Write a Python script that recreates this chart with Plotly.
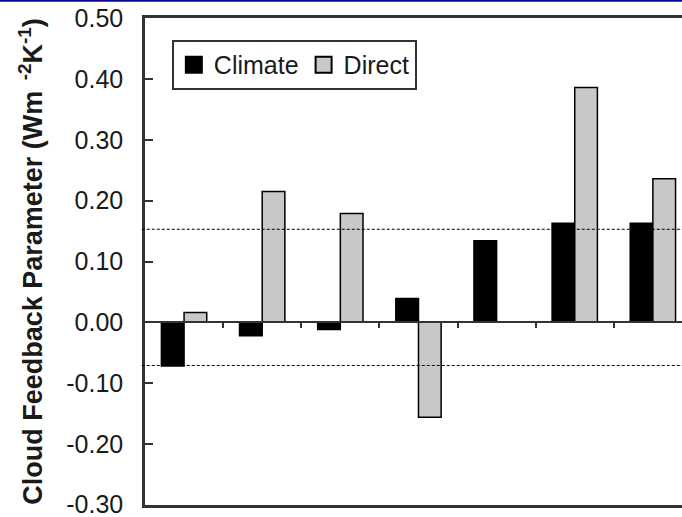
import plotly.graph_objects as go

# ---- data ----
categories = [0, 1, 2, 3, 4, 5, 6]
climate = [-0.072, -0.022, -0.012, 0.039, 0.134, 0.163, 0.163]
direct = [0.016, 0.215, 0.179, -0.156, None, 0.386, 0.236]
ref_lines = [0.153, -0.071]
y_ticks = [0.5, 0.4, 0.3, 0.2, 0.1, 0.0, -0.1, -0.2, -0.3]
y_tick_labels = ["0.50", "0.40", "0.30", "0.20", "0.10", "0.00", "-0.10", "-0.20", "-0.30"]
series_names = ["Climate", "Direct"]
y_title = "Cloud Feedback Parameter (Wm<sup>  -2</sup>K<sup>-1</sup>)"

FONT = "Liberation Sans, Arial, sans-serif"
TXT = "#1a1a1a"
AX = "#333333"
GRAY = "#c8c8c8"

fig = go.Figure()

fig.add_trace(go.Bar(x=categories, y=climate, name=series_names[0],
                     marker=dict(color="black", line=dict(color="black", width=1.5)),
                     showlegend=False))
fig.add_trace(go.Bar(x=categories, y=direct, name=series_names[1],
                     marker=dict(color=GRAY, line=dict(color="black", width=1.5)),
                     showlegend=False))

# legend entries
fig.add_trace(go.Scatter(x=[None], y=[None], mode="markers", name=series_names[0],
                         marker=dict(symbol="square", size=16, color="black",
                                     line=dict(color="black", width=2))))
fig.add_trace(go.Scatter(x=[None], y=[None], mode="markers", name=series_names[1],
                         marker=dict(symbol="square", size=16, color=GRAY,
                                     line=dict(color="black", width=2))))

# invisible trace to carry zero-line axis
fig.add_trace(go.Scatter(x=[None], y=[None], xaxis="x2", yaxis="y", showlegend=False))

xr = [-0.5, 6.5 - 10 / 78.5]
yr = [-0.3005, 0.5005]
zero_pos = (0 - yr[0]) / (yr[1] - yr[0])
ph = 487.0

for v in ref_lines:
    fig.add_shape(type="line", xref="paper", yref="y", x0=-0.006, x1=1, y0=v, y1=v,
                  line=dict(color="black", width=1, dash="3px,2px"), layer="above")

# blue strip at very top of the picture
fig.add_shape(type="line", xref="paper", yref="paper", x0=-0.28, x1=1.0,
              y0=1 + 17.2 / ph, y1=1 + 17.2 / ph,
              line=dict(color="#0a0a8c", width=2))
fig.add_shape(type="rect", xref="paper", yref="paper", x0=-0.28, x1=-0.28 + 4 / 537,
              y0=1 + 13 / ph, y1=1 + 18 / ph,
              line=dict(width=0), fillcolor="#0a0a8c")

fig.update_layout(
    width=682, height=517,
    margin=dict(l=145, r=0, t=18, b=12),
    paper_bgcolor="white", plot_bgcolor="white",
    barmode="group", bargap=0.42, bargroupgap=0,
    font=dict(family=FONT, color=TXT, size=24),
    xaxis=dict(range=xr, showline=True, mirror=True, linecolor=AX, linewidth=2.5,
               showticklabels=False, ticks="", showgrid=False, zeroline=False),
    xaxis2=dict(range=xr, overlaying="x", anchor="free", position=zero_pos,
                side="bottom", showline=True, linecolor=AX, linewidth=2,
                ticks="outside", ticklen=5, tickwidth=2, tickcolor=AX,
                tickvals=[c + 0.5 for c in categories],
                showticklabels=False, showgrid=False, zeroline=False),
    yaxis=dict(range=yr, showline=True, linecolor=AX, linewidth=2.5,
               ticks="inside", ticklen=8, tickwidth=2, tickcolor=AX,
               tickvals=y_ticks, ticktext=y_tick_labels,
               tickfont=dict(size=25, family=FONT, color=TXT),
               ticklabelstandoff=14, ticklabeloverflow="allow",
               showgrid=False, zeroline=False, automargin=False,
               title=dict(text=y_title, standoff=16,
                          font=dict(size=27, family=FONT, color=TXT, weight="bold"))),
    legend=dict(orientation="h", x=0.05, y=0.955, xanchor="left", yanchor="top",
                bordercolor=AX, borderwidth=2, bgcolor="white",
                font=dict(size=25, family=FONT, color=TXT),
                itemwidth=30),
    showlegend=True,
)

fig.write_html("out.html")
